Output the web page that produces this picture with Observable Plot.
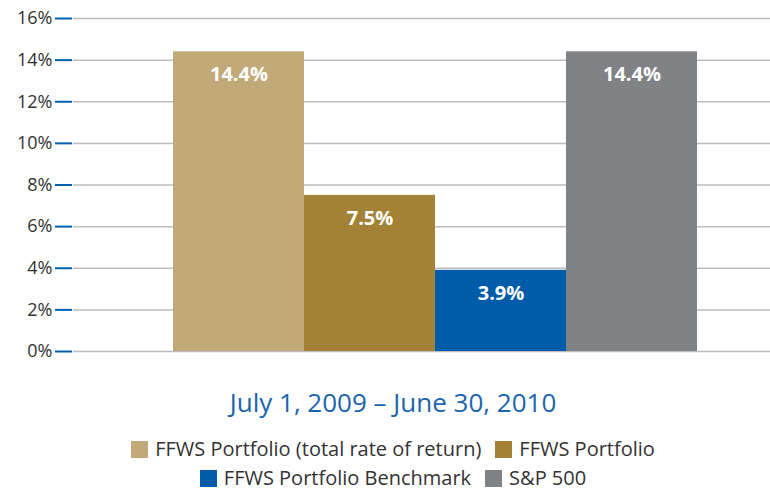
<!DOCTYPE html>
<html>
<head>
<meta charset="utf-8">
<script src="https://cdn.jsdelivr.net/npm/d3@7"></script>
<script src="https://cdn.jsdelivr.net/npm/@observablehq/plot@0.6"></script>
<style>
  html, body { margin: 0; padding: 0; background: #fff; }
  body { width: 770px; font-family: "Open Sans", "Noto Sans", sans-serif; }
  #title { text-align: center; color: #1b64ae; font-size: 26px; margin-top: 21px; padding-left: 16px; line-height: 32px; }
  .legend { display: flex; justify-content: center; padding-left: 16px; font-size: 20px; color: #333; line-height: 20px; }
  .legend .item { display: flex; align-items: center; margin: 0 7px; }
  .legend .sw { width: 17px; height: 17px; margin-right: 7px; }
  #leg1 { margin-top: 21px; }
  #leg2 { margin-top: 9px; }
</style>
</head>
<body>
<div id="chart"></div>
<div id="title">July 1, 2009 – June 30, 2010</div>
<div class="legend" id="leg1"></div>
<div class="legend" id="leg2"></div>
<script>
const categories = ["FFWS Portfolio (total rate of return)", "FFWS Portfolio", "FFWS Portfolio Benchmark", "S&P 500"];
const values = [14.4, 7.5, 3.9, 14.4];
const labels = ["14.4%", "7.5%", "3.9%", "14.4%"];
const colors = ["#c2aa78", "#a38237", "#005ca9", "#818285"];
const yTicks = [0, 2, 4, 6, 8, 10, 12, 14, 16];

const data = categories.map((c, i) => ({category: c, value: values[i], label: labels[i]}));

const chart = Plot.plot({
  width: 770,
  height: 365,
  marginLeft: 72,
  marginRight: 0,
  marginTop: 18,
  marginBottom: 14,
  style: {fontFamily: "'Open Sans', 'Noto Sans', sans-serif", background: "#fff"},
  x: {domain: categories, range: [172, 698], padding: 0, axis: null},
  y: {domain: [0, 16], label: null},
  color: {domain: categories, range: colors},
  marks: [
    Plot.ruleY(yTicks, {stroke: "#bdbdc0", strokeWidth: 1.5, dx: 1}),
    Plot.barY(data, {x: "category", y: "value", fill: "category"}),
    Plot.text(data, {x: "category", y: "value", text: "label", fill: "white", fontWeight: "bold", fontSize: 20, dy: 23}),
    Plot.axisY(yTicks, {label: null, tickSize: 17, stroke: "#0060ac", strokeWidth: 2, tickPadding: 3, fontSize: 18, fill: "#333", tickFormat: d => d + "%"})
  ]
});
document.getElementById("chart").appendChild(chart);

function addItem(el, i) {
  const it = document.createElement("div");
  it.className = "item";
  const sw = document.createElement("div");
  sw.className = "sw";
  sw.style.background = colors[i];
  const t = document.createElement("span");
  t.textContent = categories[i];
  it.appendChild(sw); it.appendChild(t);
  el.appendChild(it);
}
const l1 = document.getElementById("leg1"), l2 = document.getElementById("leg2");
addItem(l1, 0); addItem(l1, 1); addItem(l2, 2); addItem(l2, 3);
</script>
</body>
</html>
